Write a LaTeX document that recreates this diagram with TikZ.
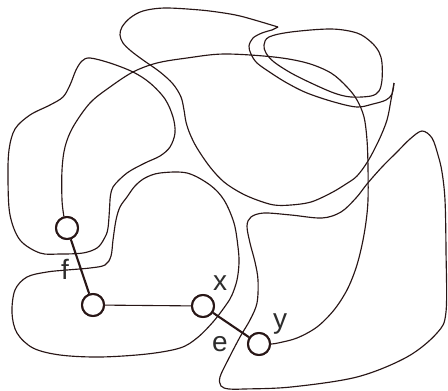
\documentclass[tikz,border=0pt]{standalone}
\usepackage{fontspec}
\newfontfamily\labfont{Liberation Sans}
\definecolor{ink}{RGB}{40,22,22}
\definecolor{txt}{RGB}{45,45,45}
\begin{document}
\begin{tikzpicture}[x=1pt,y=-1pt,
  curve/.style={draw=ink,line width=1.15pt,smooth,tension=0.55},
  vert/.style={circle,draw=ink,line width=2pt,minimum size=22pt,inner sep=0pt,fill=white},
  thickedge/.style={draw=ink,line width=2.1pt},
  thinedge/.style={draw=ink,line width=1.1pt},
  lab/.style={text=txt,font=\labfont\fontsize{28}{30}\selectfont,inner sep=0pt,anchor=base}]
\useasboundingbox (0,0) rectangle (448,391);

% vertices
\node[vert] (ftop) at (67,228) {};
\node[vert] (fbot) at (93,305) {};
\node[vert] (x) at (203,306) {};
\node[vert] (y) at (259,344) {};

% left outer loop
\draw[curve] plot coordinates {(110,200) (108,228) (104,239) (97,248) (83,253) (60,254) (40,253) (20,240) (10,215) (8,180) (9,150) (15,129) (30,115) (50,105) (63,97) (70,85) (76,70) (82,61) (90,58) (110,63) (133,72) (150,83) (165,99) (173,117) (175,133) (170,147) (160,156) (145,163) (127,173) (113,187) (110,200)};

% inner bottom-left loop
\draw[curve] plot[smooth cycle] coordinates {(120,207) (127,197) (135,186) (145,178) (160,173) (187,173) (210,185) (224,200) (234,223) (238,247) (239,263) (237,280) (232,295) (226,305) (213,322) (197,338) (180,348) (147,354) (100,357) (60,355) (33,348) (17,333) (12,313) (15,290) (27,277) (47,272) (67,270) (90,268) (105,265) (111,256) (113,240) (116,220)};

% big top loop with cusp and notch
\draw[curve] plot coordinates {(278,27) (258,21) (240,16) (224,13) (200,10) (165,8) (143,11) (130,18) (122,27) (120,35) (123,43) (131,51) (143,60) (160,72) (173,84) (181,97) (184,110) (186,122) (190,134) (197,148) (210,167) (224,182) (241,193) (257,200) (274,205) (291,205) (311,202) (331,193) (346,184) (357,176) (368,161) (379,140) (387,120) (391,100) (394,83)};
\draw[curve] plot coordinates {(394,83) (392,94) (386,100) (373,104) (357,107) (334,102) (307,93) (287,83) (271,73) (257,63) (251,54) (249,46) (253,38) (262,33) (272,30)};
\draw[draw=ink,line width=1.15pt] (278,27) -- (272,30);

% small top-right loop
\draw[curve] plot[smooth cycle] coordinates {(264,45) (269,37) (291,32) (331,29) (357,33) (371,42) (379,52) (382,63) (382,80) (379,91) (371,96) (351,97) (334,93) (311,83) (291,73) (274,62) (266,53)};

% right loop
\draw[curve] plot[smooth cycle] coordinates {(221,386) (220,377) (228,360) (240,337) (250,320) (257,303) (258,280) (255,262) (250,243) (247,226) (251,217) (264,213) (291,215) (322,218) (341,212) (356,198) (367,184) (382,167) (397,152) (410,139) (422,131) (432,138) (438,155) (442,172) (445,200) (446,250) (446,312) (437,333) (407,357) (357,377) (291,387) (244,389) (229,389)};

% long curve from ftop to y
\draw[curve] plot coordinates {(ftop.105) (62,200) (62,170) (65,147) (73,127) (90,103) (110,87) (133,72) (157,63) (187,58) (224,54) (274,57) (307,63) (331,73) (347,87) (357,100) (364,117) (367,140) (368,167) (368,200) (366,222) (362,245) (356,268) (347,290) (334,310) (317,327) (297,338) (278,343) (y.east)};

% edges
\draw[thickedge] (ftop) -- (fbot);
\draw[thinedge] (fbot) -- (x);
\draw[thickedge] (x) -- (y);

% redraw vertices on top
\node[vert] at (ftop) {};
\node[vert] at (fbot) {};
\node[vert] at (x) {};
\node[vert] at (y) {};

% labels
\node[lab] (lf) at (65,279) {f};
\node[lab] (lx) at (220,290) {x};
\node[lab] (ly) at (280,328) {y};
\node[lab] (le) at (220,351) {e};
\end{tikzpicture}
\end{document}
